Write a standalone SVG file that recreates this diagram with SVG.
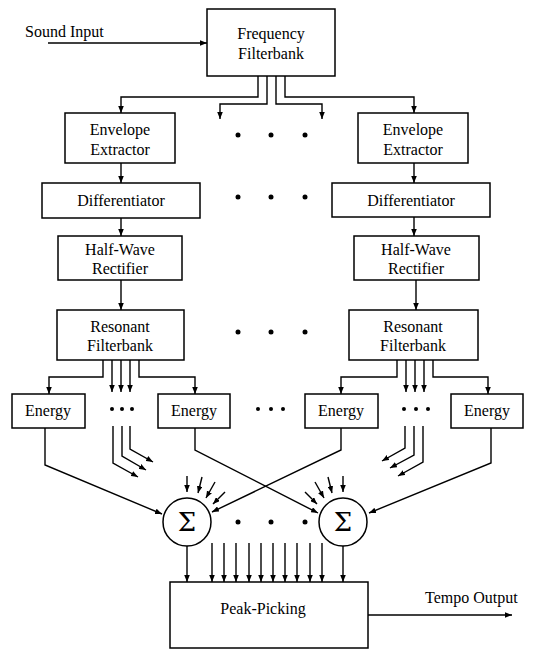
<svg xmlns="http://www.w3.org/2000/svg" width="533" height="651" viewBox="0 0 533 651">
<style>
.box{fill:#fff;stroke:#000;stroke-width:1.5}
.t{font-family:"Liberation Serif","Times New Roman",serif;font-size:16px;fill:#000;text-anchor:middle}
.tl{font-family:"Liberation Serif","Times New Roman",serif;font-size:16px;fill:#000}
.sig{font-family:"DejaVu Serif","Liberation Serif",serif;font-size:26px;fill:#000;text-anchor:middle}
.c{fill:none;stroke:#000;stroke-width:1.4}
.a{fill:none;stroke:#000;stroke-width:1.4;marker-end:url(#ah)}
.dot{fill:#000}
</style>
<defs>
<marker id="ah" viewBox="0 0 10 8" refX="10" refY="4" markerWidth="7" markerHeight="5.6" markerUnits="userSpaceOnUse" orient="auto"><path d="M0,0 L10,4 L0,8 z" fill="#000"/></marker>
</defs>
<rect width="533" height="651" fill="#fff"/>

<g id="connectors">
<path class="a" d="M48,43 H207"/>
<path class="a" d="M258,76 V97 H121 V113"/>
<path class="a" d="M267,76 V104 H220 V119"/>
<path class="a" d="M276,76 V104 H322 V119"/>
<path class="a" d="M285,76 V97 H414 V113"/>
<path class="a" d="M121,163 V183"/>
<path class="a" d="M414,163 V183"/>
<path class="a" d="M121,218 V236"/>
<path class="a" d="M414,217 V236"/>
<path class="a" d="M121,280 V310"/>
<path class="a" d="M416,280 V310"/>
<path class="a" d="M103,360 V377 H49 V394"/>
<path class="a" d="M112,360 V392"/>
<path class="a" d="M121,360 V392"/>
<path class="a" d="M130,360 V392"/>
<path class="a" d="M139,360 V377 H195 V394"/>
<path class="a" d="M397,360 V377 H341 V394"/>
<path class="a" d="M406,360 V392"/>
<path class="a" d="M415,360 V392"/>
<path class="a" d="M424,360 V392"/>
<path class="a" d="M433,360 V377 H488 V394"/>
<path class="a" d="M45,428 V465 L162,514"/>
<path class="a" d="M195,428 V450 L318,513"/>
<path class="a" d="M341,428 V450 L212,512"/>
<path class="a" d="M491,428 V463 L369,513"/>
<path class="a" d="M113,426 V463 L138,477"/>
<path class="a" d="M122,426 V456 L146,470"/>
<path class="a" d="M130,426 V449 L153,462"/>
<path class="a" d="M405,426 V448 L382,461"/>
<path class="a" d="M414,426 V455 L390,468"/>
<path class="a" d="M423,426 V462 L398,476"/>
<path class="a" d="M187,476 V492"/>
<path class="a" d="M202,477 L198,493"/>
<path class="a" d="M215,482 L206,498"/>
<path class="a" d="M225,492 L213,504"/>
<path class="a" d="M343,476 V492"/>
<path class="a" d="M328,477 L332,493"/>
<path class="a" d="M315,482 L324,498"/>
<path class="a" d="M305,492 L317,504"/>
<path class="a" d="M187,546 V582"/>
<path class="a" d="M212,543 V582"/>
<path class="a" d="M224,543 V582"/>
<path class="a" d="M236,543 V582"/>
<path class="a" d="M249,543 V582"/>
<path class="a" d="M261,543 V582"/>
<path class="a" d="M273,543 V582"/>
<path class="a" d="M285,543 V582"/>
<path class="a" d="M297,543 V582"/>
<path class="a" d="M310,543 V582"/>
<path class="a" d="M322,543 V582"/>
<path class="a" d="M343,546 V582"/>
<path class="a" d="M368,615 H512"/>
</g>

<g id="dots">
<circle class="dot" cx="238" cy="135" r="2.5"/><circle class="dot" cx="271" cy="135" r="2.5"/><circle class="dot" cx="305" cy="135" r="2.5"/>
<circle class="dot" cx="238" cy="197" r="2.5"/><circle class="dot" cx="271" cy="197" r="2.5"/><circle class="dot" cx="305" cy="197" r="2.5"/>
<circle class="dot" cx="238" cy="332" r="2.5"/><circle class="dot" cx="271" cy="332" r="2.5"/><circle class="dot" cx="305" cy="332" r="2.5"/>
<circle class="dot" cx="112" cy="409" r="2"/><circle class="dot" cx="122" cy="409" r="2"/><circle class="dot" cx="132" cy="409" r="2"/>
<circle class="dot" cx="258" cy="409" r="2"/><circle class="dot" cx="271" cy="409" r="2"/><circle class="dot" cx="283" cy="409" r="2"/>
<circle class="dot" cx="404" cy="409" r="2"/><circle class="dot" cx="416" cy="409" r="2"/><circle class="dot" cx="428" cy="409" r="2"/>
<circle class="dot" cx="238" cy="522" r="2.5"/><circle class="dot" cx="271" cy="522" r="2.5"/><circle class="dot" cx="305" cy="522" r="2.5"/>
</g>

<g id="sound-input"><text class="tl" x="25" y="37">Sound Input</text></g>
<g id="frequency-filterbank">
<rect class="box" x="207" y="9" width="128" height="67"/>
<text class="t" x="271" y="39">Frequency</text><text class="t" x="271" y="59">Filterbank</text>
</g>
<g id="env-left">
<rect class="box" x="65" y="113" width="110" height="50"/>
<text class="t" x="120" y="135">Envelope</text><text class="t" x="120" y="155">Extractor</text>
</g>
<g id="env-right">
<rect class="box" x="358" y="113" width="110" height="50"/>
<text class="t" x="413" y="135">Envelope</text><text class="t" x="413" y="155">Extractor</text>
</g>
<g id="diff-left">
<rect class="box" x="42" y="183" width="158" height="35"/>
<text class="t" x="121" y="206">Differentiator</text>
</g>
<g id="diff-right">
<rect class="box" x="332" y="183" width="158" height="34"/>
<text class="t" x="411" y="206">Differentiator</text>
</g>
<g id="hwr-left">
<rect class="box" x="58" y="236" width="124" height="44"/>
<text class="t" x="120" y="255">Half-Wave</text><text class="t" x="120" y="274">Rectifier</text>
</g>
<g id="hwr-right">
<rect class="box" x="354" y="236" width="125" height="44"/>
<text class="t" x="416" y="255">Half-Wave</text><text class="t" x="416" y="274">Rectifier</text>
</g>
<g id="rf-left">
<rect class="box" x="57" y="310" width="127" height="50"/>
<text class="t" x="120" y="332">Resonant</text><text class="t" x="120" y="351">Filterbank</text>
</g>
<g id="rf-right">
<rect class="box" x="349" y="310" width="129" height="50"/>
<text class="t" x="413" y="332">Resonant</text><text class="t" x="413" y="351">Filterbank</text>
</g>
<g id="energy-1"><rect class="box" x="12" y="394" width="73" height="34"/><text class="t" x="48" y="416">Energy</text></g>
<g id="energy-2"><rect class="box" x="158" y="394" width="72" height="34"/><text class="t" x="194" y="416">Energy</text></g>
<g id="energy-3"><rect class="box" x="305" y="394" width="73" height="34"/><text class="t" x="341" y="416">Energy</text></g>
<g id="energy-4"><rect class="box" x="451" y="394" width="72" height="34"/><text class="t" x="487" y="416">Energy</text></g>
<g id="sum-1"><circle class="box" cx="187" cy="522" r="24"/><text class="sig" x="187" y="531">Σ</text></g>
<g id="sum-2"><circle class="box" cx="343" cy="522" r="24"/><text class="sig" x="343" y="531">Σ</text></g>
<g id="peak-picking">
<rect class="box" x="170" y="582" width="198" height="66"/>
<text class="t" x="263" y="614">Peak-Picking</text>
</g>
<g id="tempo-output"><text class="tl" x="425" y="603">Tempo Output</text></g>
</svg>
